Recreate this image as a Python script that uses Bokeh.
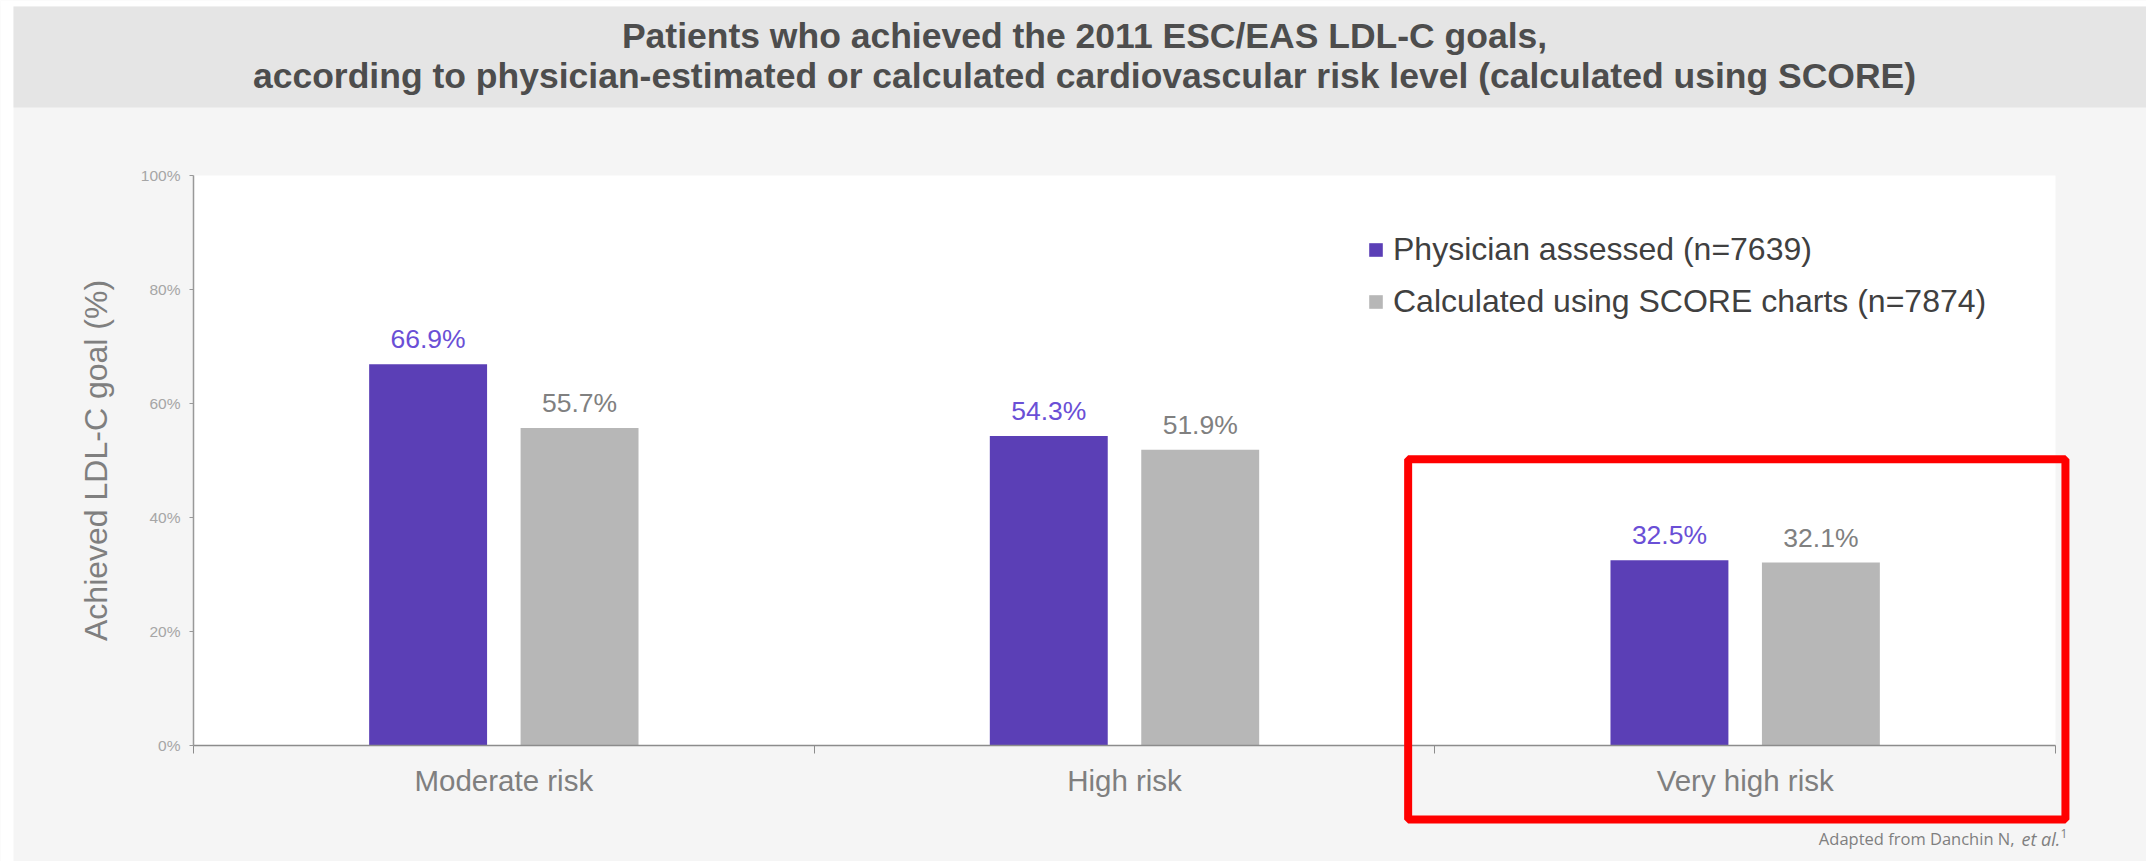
from bokeh.plotting import figure
from bokeh.models import (ColumnDataSource, Range1d, FixedTicker,
                          PrintfTickFormatter, LabelSet, Label, Legend, LegendItem, BoxAnnotation)
from bokeh.core.properties import value
from bokeh.transform import dodge
from bokeh.embed import file_html
from bokeh.resources import INLINE

# ---------------- data ----------------
categories = ["Moderate risk", "High risk", "Very high risk"]
physician_pct = [66.9, 54.3, 32.5]
score_pct = [55.7, 51.9, 32.1]
series_names = ["Physician assessed (n=7639)", "Calculated using SCORE charts (n=7874)"]
y_ticks = [0, 20, 40, 60, 80, 100]
title_lines = ["Patients who achieved the 2011 ESC/EAS LDL-C goals,",
               "according to physician-estimated or calculated cardiovascular risk level (calculated using SCORE)"]
y_label = "Achieved LDL-C goal (%)"
source_note = "Adapted from Danchin N,"
source_note_italic = "et al."
source_ref = "1"
highlight_category = "Very high risk"

# ---------------- styles / layout ----------------
PURPLE = "#5b3fb6"
GRAY = "#b7b7b7"
PURPLE_TXT = "#6a4fd6"
GRAY_TXT = "#808080"
FONT = "Liberation Sans"

W, H = 2146, 861
# plot area (white box) in canvas pixels: left, right, top, bottom
PL, PR, PT, PB = 193, 2055, 175, 745
n = len(categories)
ymax = 100
px_x = (PR - PL) / n          # pixels per category band
px_y = (PB - PT) / ymax       # pixels per percent

x_range = Range1d(-PL / px_x, n + (W - PR) / px_x)
y_range = Range1d(-(H - PB) / px_y, ymax + PT / px_y)

centers = [i + 0.5 for i in range(n)]
src = ColumnDataSource(dict(
    xc=centers,
    cat=categories,
    phys=physician_pct,
    score=score_pct,
    phys_lbl=[f"{v:.1f}%" for v in physician_pct],
    score_lbl=[f"{v:.1f}%" for v in score_pct],
))

p = figure(width=W, height=H, output_backend="svg", toolbar_location=None,
           x_range=x_range, y_range=y_range,
           min_border=0, min_border_left=0, min_border_right=0, min_border_top=0, min_border_bottom=0)
p.title.text = ""
p.title.visible = False
p.border_fill_color = "#ffffff"
p.background_fill_color = "#f5f5f5"
p.outline_line_color = None
p.grid.visible = False

def screen_box(l, r, t, b, color):
    # canvas pixel box (t/b measured from top) -> frame screen units (from bottom-left)
    return BoxAnnotation(left=l, right=r, top=H - t, bottom=H - b,
                         left_units="screen", right_units="screen",
                         top_units="screen", bottom_units="screen",
                         fill_color=color, fill_alpha=1, line_color=None, level="underlay")

# page margins (white) and title banner
p.add_layout(screen_box(0, W, 0, 6, "#ffffff"))
p.add_layout(screen_box(0, 13, 0, H, "#ffffff"))
p.add_layout(screen_box(13, W, 6, 107, "#e5e5e5"))
# white plot area (data units)
p.add_layout(BoxAnnotation(left=0, right=n, bottom=0, top=ymax, fill_color="#ffffff",
                           fill_alpha=1, line_color=None, level="underlay"))

# title lines
for txt, base in zip(title_lines, [35, 75]):
    p.add_layout(Label(x=1084, y=H - base, x_units="screen", y_units="screen", text=txt,
                       text_align="center", text_baseline="alphabetic",
                       text_font=FONT, text_font_size="35.5px", text_font_style="bold",
                       text_color="#4d4d4d"))

# bars
bar_w = 0.19
off = 0.122
r1 = p.vbar(x=dodge("xc", -off), top="phys", width=bar_w, source=src,
            fill_color=PURPLE, line_color=None)
r2 = p.vbar(x=dodge("xc", off), top="score", width=bar_w, source=src,
            fill_color=GRAY, line_color=None)

p.add_layout(LabelSet(x=dodge("xc", -off), y="phys", text="phys_lbl", source=src,
                      text_align="center", text_baseline="alphabetic", y_offset=16,
                      text_font=value(FONT), text_font_size=value("26.5px"), text_color=PURPLE_TXT))
p.add_layout(LabelSet(x=dodge("xc", off), y="score", text="score_lbl", source=src,
                      text_align="center", text_baseline="alphabetic", y_offset=16,
                      text_font=value(FONT), text_font_size=value("26.5px"), text_color=GRAY_TXT))

# y axis
yax = p.yaxis[0]
yax.fixed_location = 0
yax.bounds = (0, ymax)
yax.ticker = FixedTicker(ticks=y_ticks)
yax.formatter = PrintfTickFormatter(format="%d%%")
yax.axis_line_color = "#999999"
yax.axis_line_width = 1.5
yax.major_tick_line_color = "#999999"
yax.major_tick_out = 4
yax.major_tick_in = 0
yax.minor_tick_line_color = None
yax.major_label_text_font = FONT
yax.major_label_text_font_size = "15.5px"
yax.major_label_text_color = "#a6a6a6"
yax.major_label_standoff = 9
yax.axis_label = y_label
yax.axis_label_text_font = FONT
yax.axis_label_text_font_size = "32px"
yax.axis_label_text_font_style = "normal"
yax.axis_label_text_color = "#7f7f7f"
yax.axis_label_standoff = 24

# x axis: category labels at band centres, tick marks at band boundaries
xax = p.xaxis[0]
xax.fixed_location = 0
xax.bounds = (0, n)
xax.ticker = FixedTicker(ticks=centers, minor_ticks=list(range(n + 1)))
xax.major_label_overrides = {c: lab for c, lab in zip(centers, categories)}
xax.axis_line_color = "#8c8c8c"
xax.axis_line_width = 1.5
xax.major_tick_line_color = None
xax.major_tick_out = 0
xax.major_tick_in = 0
xax.minor_tick_line_color = "#8c8c8c"
xax.minor_tick_line_width = 1
xax.minor_tick_out = 8
xax.minor_tick_in = 0
xax.major_label_text_font = FONT
xax.major_label_text_font_size = "29.5px"
xax.major_label_text_color = "#7f7f7f"
xax.major_label_standoff = 10

# legend
legend = Legend(items=[LegendItem(label=series_names[0], renderers=[r1]),
                       LegendItem(label=series_names[1], renderers=[r2])],
                location=(1367, 541), orientation="vertical",
                glyph_width=17, glyph_height=17, label_standoff=9, spacing=15,
                padding=0, margin=0, border_line_color=None, background_fill_alpha=0,
                label_text_font=FONT, label_text_font_size="32px", label_text_color="#404040")
p.add_layout(legend, "center")

# highlight box around the last category
hi = categories.index(highlight_category)
p.add_layout(BoxAnnotation(left=hi - 0.043, right=hi + 1.016, top=50.2, bottom=-13,
                           fill_alpha=0, line_color="#ff0000", line_alpha=1, line_width=8))

# source note
NOTE_BASE = 838
p.add_layout(Label(x=2014, y=H - NOTE_BASE, x_units="screen", y_units="screen",
                   text=source_note, text_align="right", text_baseline="alphabetic",
                   text_font="Open Sans", text_font_size="16.5px", text_color="#7f7f7f"))
p.add_layout(Label(x=2021, y=H - NOTE_BASE, x_units="screen", y_units="screen",
                   text=source_note_italic, text_align="left", text_baseline="alphabetic",
                   text_font="Open Sans", text_font_size="18px", text_font_style="italic",
                   text_color="#7f7f7f"))
p.add_layout(Label(x=2060, y=H - NOTE_BASE + 5, x_units="screen", y_units="screen",
                   text=source_ref, text_align="left", text_baseline="alphabetic",
                   text_font="Open Sans", text_font_size="12px",
                   text_color="#7f7f7f"))

open("out.html", "w").write(file_html(p, INLINE))
